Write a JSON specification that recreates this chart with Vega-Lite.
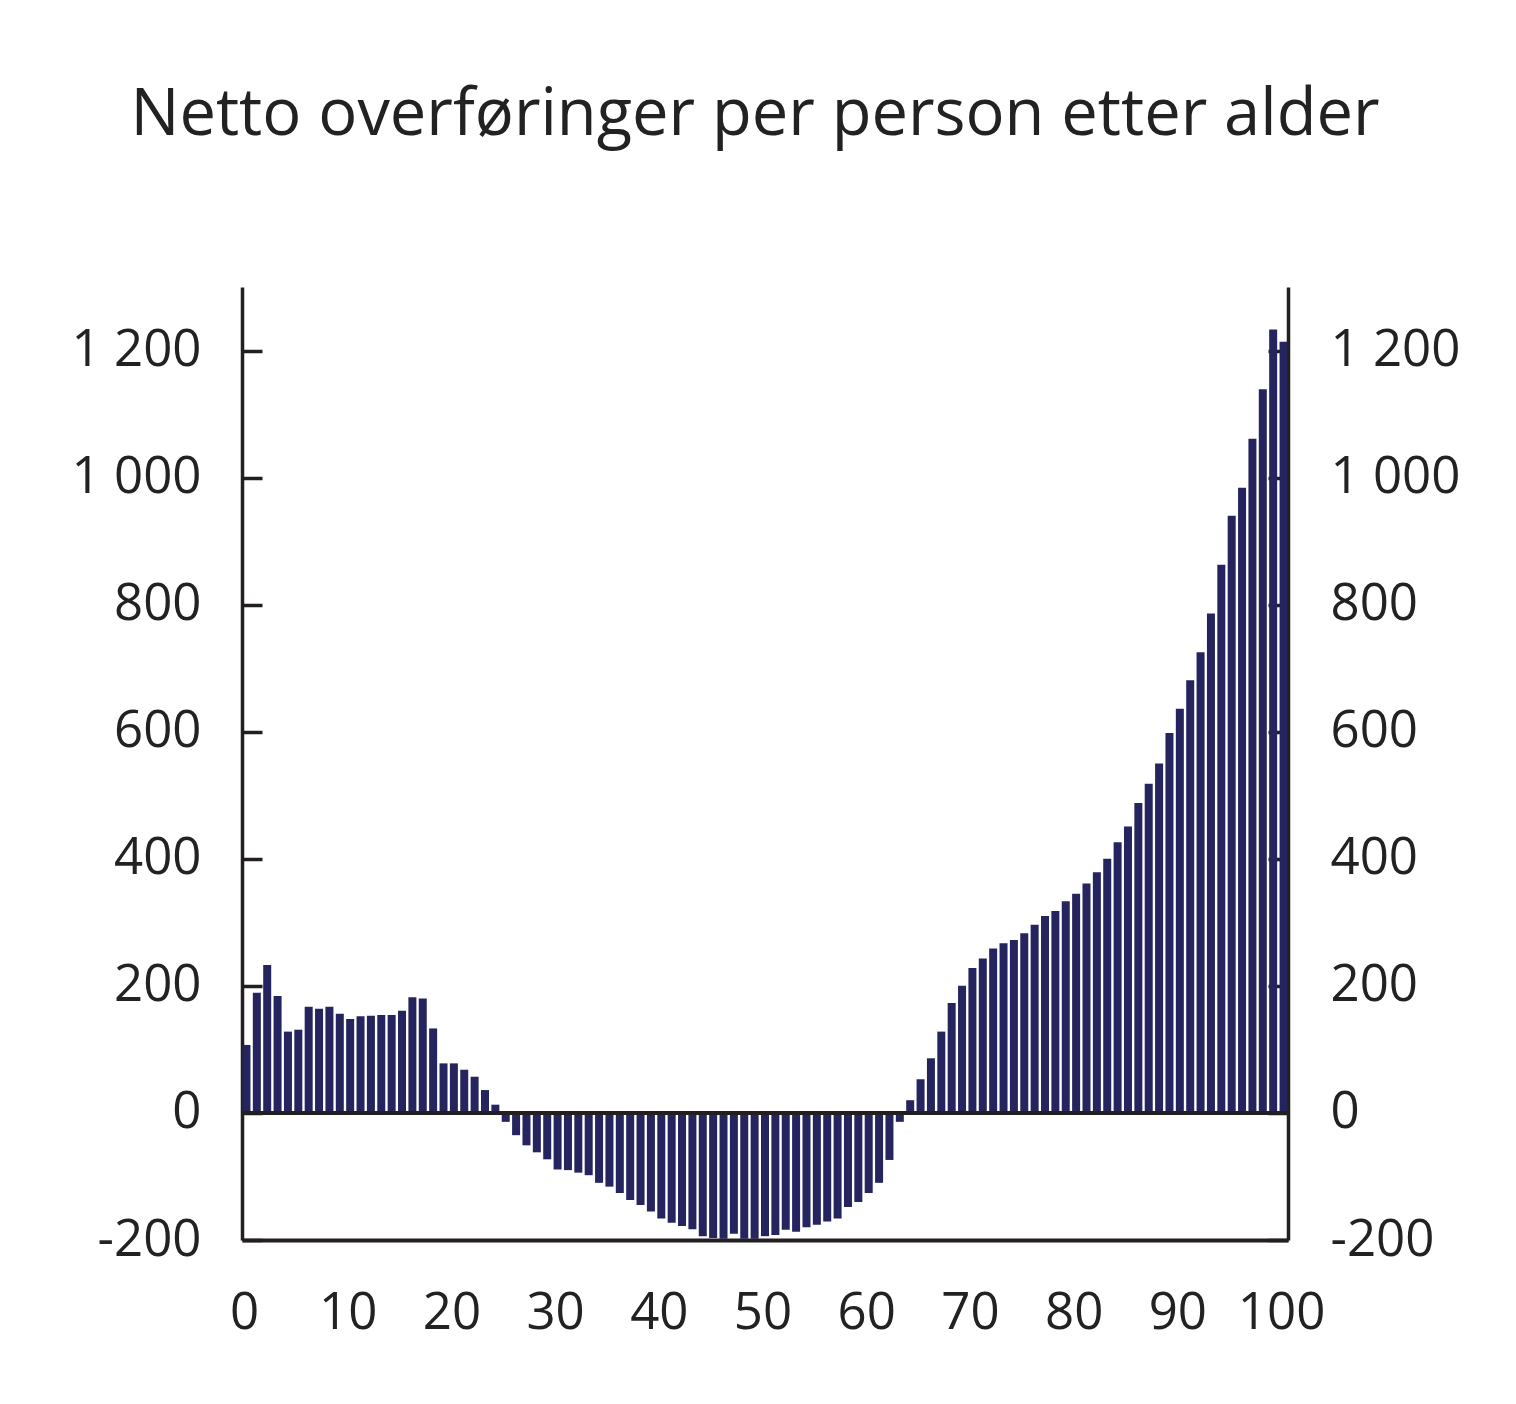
{
  "$schema": "https://vega.github.io/schema/vega-lite/v6.json",
  "width": 1046,
  "height": 953,
  "autosize": "none",
  "padding": {"left": 242, "top": 287, "right": 228, "bottom": 164},
  "background": "white",
  "title": {
    "text": "Netto overføringer per person etter alder",
    "font": "Open Sans",
    "fontSize": 65,
    "fontWeight": "normal",
    "color": "#222222",
    "baseline": "alphabetic",
    "offset": 87,
    "dx": -10
  },
  "config": {
    "view": {"stroke": null},
    "axis": {
      "labelFont": "Open Sans",
      "labelFontSize": 51,
      "labelColor": "#222222",
      "domainColor": "#231f20",
      "tickColor": "#231f20",
      "grid": false,
      "title": null
    }
  },
  "layer": [
    {
      "data": {
        "values": [
          {"alder": 0, "verdi": 107}, {"alder": 1, "verdi": 189}, {"alder": 2, "verdi": 233}, {"alder": 3, "verdi": 184},
          {"alder": 4, "verdi": 128}, {"alder": 5, "verdi": 131}, {"alder": 6, "verdi": 167}, {"alder": 7, "verdi": 164},
          {"alder": 8, "verdi": 167}, {"alder": 9, "verdi": 156}, {"alder": 10, "verdi": 148}, {"alder": 11, "verdi": 152},
          {"alder": 12, "verdi": 153}, {"alder": 13, "verdi": 154}, {"alder": 14, "verdi": 154}, {"alder": 15, "verdi": 161},
          {"alder": 16, "verdi": 182}, {"alder": 17, "verdi": 180}, {"alder": 18, "verdi": 133}, {"alder": 19, "verdi": 78},
          {"alder": 20, "verdi": 78}, {"alder": 21, "verdi": 68}, {"alder": 22, "verdi": 57}, {"alder": 23, "verdi": 36},
          {"alder": 24, "verdi": 13}, {"alder": 25, "verdi": -14}, {"alder": 26, "verdi": -35}, {"alder": 27, "verdi": -51},
          {"alder": 28, "verdi": -62}, {"alder": 29, "verdi": -73}, {"alder": 30, "verdi": -89}, {"alder": 31, "verdi": -90},
          {"alder": 32, "verdi": -94}, {"alder": 33, "verdi": -98}, {"alder": 34, "verdi": -110}, {"alder": 35, "verdi": -116},
          {"alder": 36, "verdi": -126}, {"alder": 37, "verdi": -137}, {"alder": 38, "verdi": -145}, {"alder": 39, "verdi": -155},
          {"alder": 40, "verdi": -166}, {"alder": 41, "verdi": -173}, {"alder": 42, "verdi": -178}, {"alder": 43, "verdi": -183},
          {"alder": 44, "verdi": -194}, {"alder": 45, "verdi": -197}, {"alder": 46, "verdi": -198}, {"alder": 47, "verdi": -190},
          {"alder": 48, "verdi": -198}, {"alder": 49, "verdi": -198}, {"alder": 50, "verdi": -194}, {"alder": 51, "verdi": -192},
          {"alder": 52, "verdi": -184}, {"alder": 53, "verdi": -187}, {"alder": 54, "verdi": -180}, {"alder": 55, "verdi": -176},
          {"alder": 56, "verdi": -171}, {"alder": 57, "verdi": -166}, {"alder": 58, "verdi": -148}, {"alder": 59, "verdi": -140},
          {"alder": 60, "verdi": -126}, {"alder": 61, "verdi": -110}, {"alder": 62, "verdi": -74}, {"alder": 63, "verdi": -14},
          {"alder": 64, "verdi": 20}, {"alder": 65, "verdi": 53}, {"alder": 66, "verdi": 86}, {"alder": 67, "verdi": 128},
          {"alder": 68, "verdi": 173}, {"alder": 69, "verdi": 200}, {"alder": 70, "verdi": 228}, {"alder": 71, "verdi": 243},
          {"alder": 72, "verdi": 259}, {"alder": 73, "verdi": 267}, {"alder": 74, "verdi": 272}, {"alder": 75, "verdi": 283},
          {"alder": 76, "verdi": 296}, {"alder": 77, "verdi": 310}, {"alder": 78, "verdi": 318}, {"alder": 79, "verdi": 333},
          {"alder": 80, "verdi": 345}, {"alder": 81, "verdi": 361}, {"alder": 82, "verdi": 379}, {"alder": 83, "verdi": 400},
          {"alder": 84, "verdi": 426}, {"alder": 85, "verdi": 451}, {"alder": 86, "verdi": 488}, {"alder": 87, "verdi": 518},
          {"alder": 88, "verdi": 550}, {"alder": 89, "verdi": 598}, {"alder": 90, "verdi": 636}, {"alder": 91, "verdi": 681},
          {"alder": 92, "verdi": 725}, {"alder": 93, "verdi": 786}, {"alder": 94, "verdi": 863}, {"alder": 95, "verdi": 940},
          {"alder": 96, "verdi": 984}, {"alder": 97, "verdi": 1061}, {"alder": 98, "verdi": 1139}, {"alder": 99, "verdi": 1233},
          {"alder": 100, "verdi": 1214}
        ]
      },
      "mark": {"type": "bar", "size": 8, "color": "#25245e"},
      "encoding": {
        "x": {
          "field": "alder",
          "type": "quantitative",
          "scale": {"domain": [-0.43, 100.43], "nice": false, "zero": false, "padding": 0},
          "axis": {
            "orient": "bottom",
            "values": [0, 10, 20, 30, 40, 50, 60, 70, 80, 90, 100],
            "ticks": false,
            "domainWidth": 4,
            "labelPadding": 48,
            "labelOffset": -2.5,
            "labelFlush": false
          }
        },
        "y": {
          "field": "verdi",
          "type": "quantitative",
          "scale": {"domain": [-200, 1300], "nice": false},
          "axis": {
            "orient": "left",
            "values": [-200, 0, 200, 400, 600, 800, 1000, 1200],
            "labelExpr": "datum.value == 1200 ? '1 200' : datum.value == 1000 ? '1 000' : '' + datum.value",
            "tickSize": -20,
            "tickWidth": 3.5,
            "domainWidth": 3.5,
            "labelPadding": 61
          }
        }
      }
    },
    {
      "data": {"values": [{"null": 0}]},
      "mark": {"type": "rule", "color": "#231f20", "strokeWidth": 4},
      "encoding": {
        "y": {
          "field": "null",
          "type": "quantitative",
          "axis": {
            "orient": "right",
            "values": [-200, 0, 200, 400, 600, 800, 1000, 1200],
            "labelExpr": "datum.value == 1200 ? '1 200' : datum.value == 1000 ? '1 000' : '' + datum.value",
            "tickSize": -20,
            "tickWidth": 3.5,
            "domainWidth": 3.5,
            "labelPadding": 62
          }
        }
      }
    }
  ],
  "resolve": {"axis": {"y": "independent"}}
}
